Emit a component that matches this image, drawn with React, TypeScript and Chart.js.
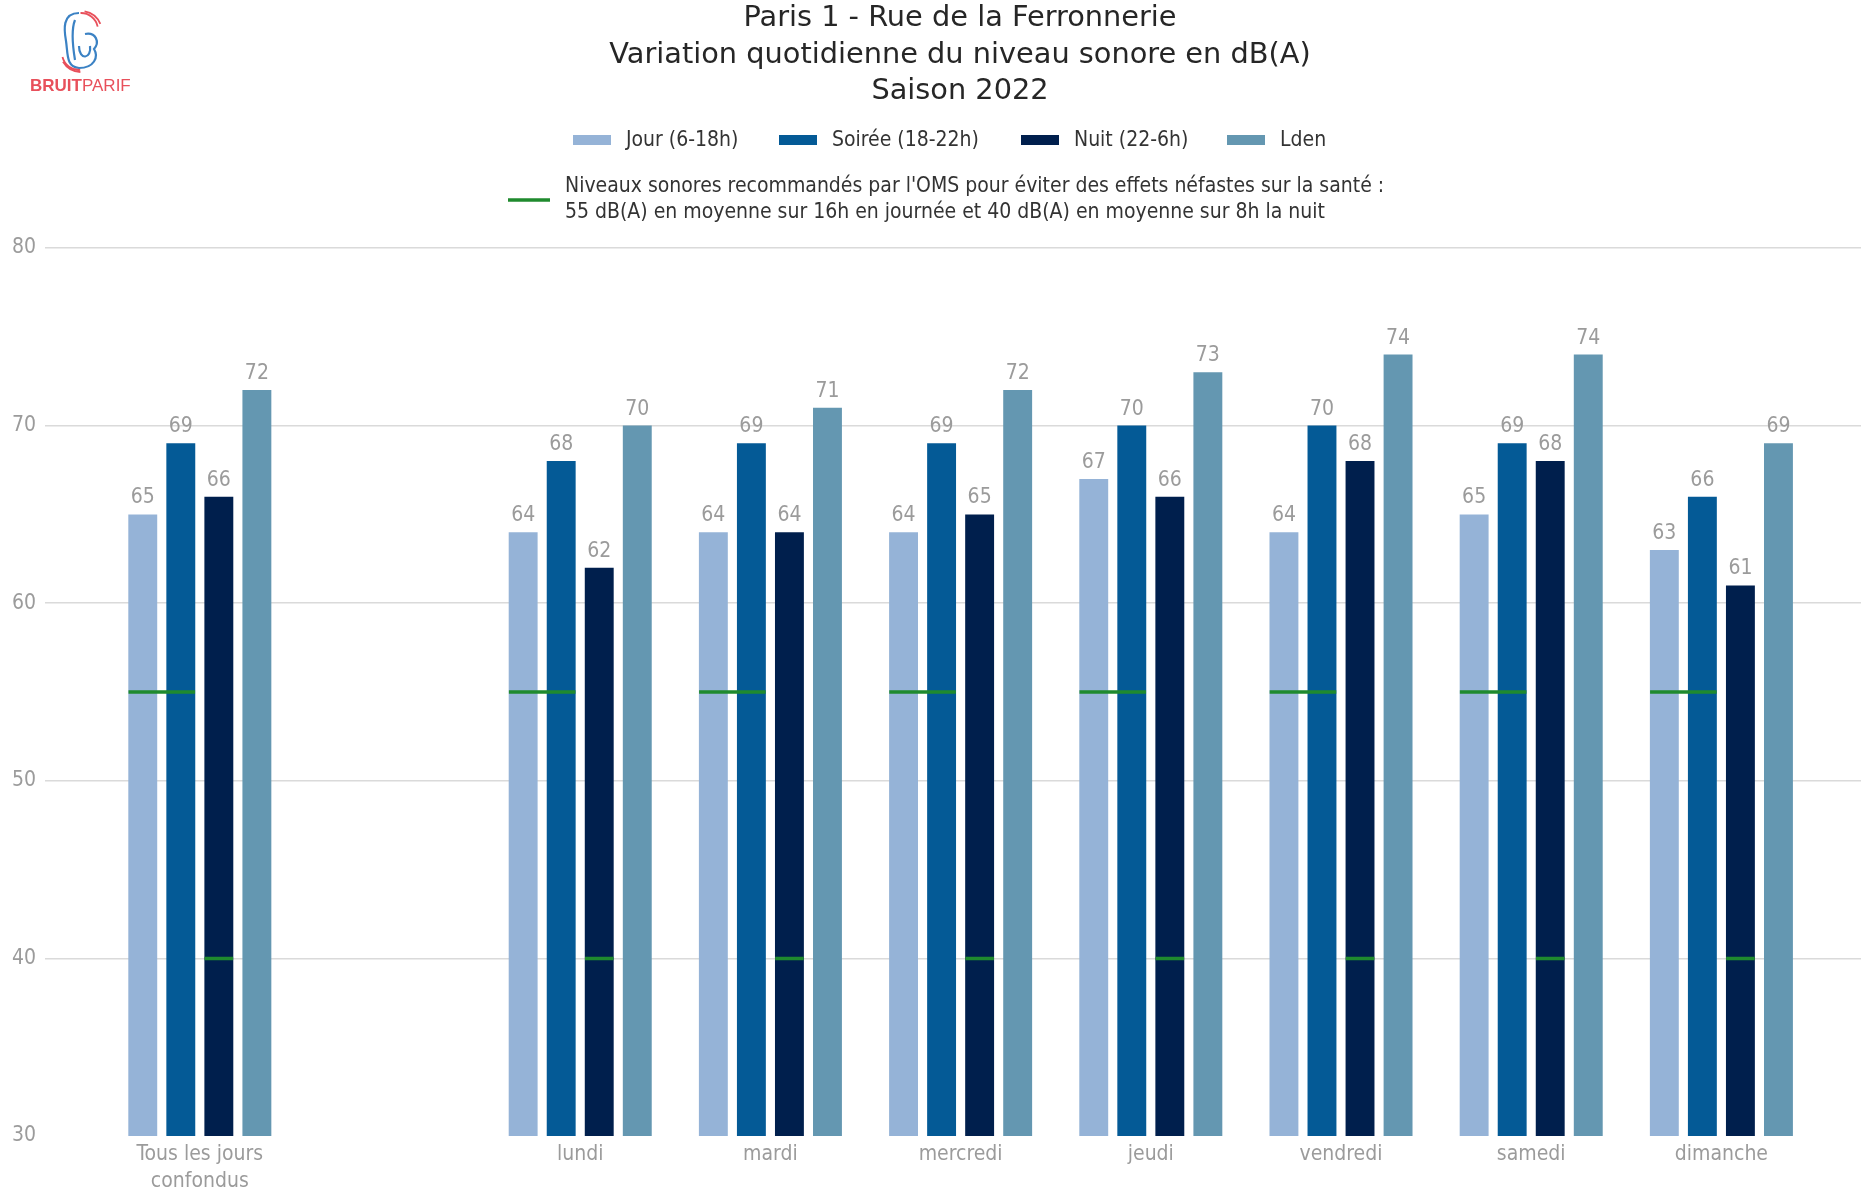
import React, { useEffect, useRef } from 'react';
import { Chart, registerables } from 'chart.js';

Chart.register(...registerables);

// ---------- data ----------
const categories = ['Tous les jours\nconfondus', 'lundi', 'mardi', 'mercredi', 'jeudi', 'vendredi', 'samedi', 'dimanche'];
const categoryPositions = [0, 2, 3, 4, 5, 6, 7, 8];
const jour = [65, 64, 64, 64, 67, 64, 65, 63];
const soiree = [69, 68, 69, 69, 70, 70, 69, 66];
const nuit = [66, 62, 64, 65, 66, 68, 68, 61];
const lden = [72, 70, 71, 72, 73, 74, 74, 69];
const seriesNames = ['Jour (6-18h)', 'Soirée (18-22h)', 'Nuit (22-6h)', 'Lden'];
const seriesColors = ['#95b3d7', '#045a96', '#001f4d', '#6497b1'];
const omsDay = 55;
const omsNight = 40;
const yTickValues = [30, 40, 50, 60, 70, 80];
const titleLines = ['Paris 1 - Rue de la Ferronnerie', 'Variation quotidienne du niveau sonore en dB(A)', 'Saison 2022'];
const omsLegendLines = [
  "Niveaux sonores recommandés par l'OMS pour éviter des effets néfastes sur la santé :",
  '55 dB(A) en moyenne sur 16h en journée et 40 dB(A) en moyenne sur 8h la nuit',
];
const logoText = ['BRUIT', 'PARIF'];

// ---------- styles ----------
const CONDENSED = "'DejaVu Sans Condensed', 'Liberation Sans Narrow', 'DejaVu Sans', sans-serif";
const TEXT_SIZE = 21;
const GREY = '#9b9b9b';
const GREEN = '#1f8a2e';
const SLOT = 0.2; // category units per bar slot (categoryPercentage 0.8 / 4 series)
const HALF_BAR = 0.075;

function buildOmsLine(): any[] {
  const pts: any[] = [];
  categoryPositions.forEach((p) => {
    const jourLeft = p - 1.5 * SLOT - HALF_BAR;
    const soireeRight = p - 0.5 * SLOT + HALF_BAR;
    const nuitLeft = p + 0.5 * SLOT - HALF_BAR;
    const nuitRight = p + 0.5 * SLOT + HALF_BAR;
    pts.push({ x: jourLeft, y: omsDay }, { x: soireeRight, y: omsDay }, { x: soireeRight, y: null });
    pts.push({ x: nuitLeft, y: omsNight }, { x: nuitRight, y: omsNight }, { x: nuitRight, y: null });
  });
  return pts;
}

const headerPlugin = {
  id: 'header',
  afterDraw(chart: any) {
    const ctx = chart.ctx as CanvasRenderingContext2D;
    ctx.save();
    // logo icon
    ctx.lineWidth = 2.2;
    ctx.strokeStyle = '#3b82c4';
    ctx.beginPath();
    ctx.moveTo(79, 13);
    ctx.bezierCurveTo(62, 13, 64, 30, 66, 41);
    ctx.bezierCurveTo(68, 54, 66, 67, 79, 68);
    ctx.bezierCurveTo(94, 68, 99, 57, 94, 49);
    ctx.bezierCurveTo(100, 42, 96, 32, 85, 34);
    ctx.stroke();
    ctx.beginPath();
    ctx.moveTo(75, 20);
    ctx.bezierCurveTo(71, 30, 73, 48, 75, 60);
    ctx.stroke();
    ctx.beginPath();
    ctx.moveTo(79, 46);
    ctx.bezierCurveTo(79, 61, 92, 59, 90, 46);
    ctx.stroke();
    ctx.strokeStyle = '#e8505b';
    ctx.lineWidth = 1.8;
    ctx.beginPath();
    ctx.arc(81, 30, 17, -1.6, -0.2);
    ctx.stroke();
    ctx.beginPath();
    ctx.arc(81, 32, 21, -1.4, -0.4);
    ctx.stroke();
    ctx.beginPath();
    ctx.arc(79, 53, 17, 1.5, 2.9);
    ctx.stroke();
    ctx.beginPath();
    ctx.arc(81, 51, 21, 1.6, 2.6);
    ctx.stroke();
    // logo text
    ctx.fillStyle = '#e8505b';
    ctx.textBaseline = 'middle';
    ctx.textAlign = 'left';
    ctx.font = "bold 17px 'Liberation Sans', sans-serif";
    ctx.fillText(logoText[0], 30, 86);
    const w = ctx.measureText(logoText[0]).width;
    ctx.font = "17px 'Liberation Sans', sans-serif";
    ctx.fillText(logoText[1], 30 + w, 86);

    // title
    ctx.fillStyle = '#262626';
    ctx.textAlign = 'center';
    ctx.font = "28.8px 'DejaVu Sans', sans-serif";
    const titleY = [19, 55.5, 91.5];
    titleLines.forEach((t, i) => ctx.fillText(t, 960, titleY[i]));

    // series legend
    ctx.font = `${TEXT_SIZE}px ${CONDENSED}`;
    ctx.textAlign = 'left';
    const boxX = [573, 779, 1021, 1227];
    seriesNames.forEach((n, i) => {
      ctx.fillStyle = seriesColors[i];
      ctx.fillRect(boxX[i], 135, 38, 10);
      ctx.fillStyle = '#333333';
      ctx.fillText(n, boxX[i] + 53, 141);
    });

    // OMS legend
    ctx.strokeStyle = GREEN;
    ctx.lineWidth = 3.5;
    ctx.beginPath();
    ctx.moveTo(508, 200);
    ctx.lineTo(550, 200);
    ctx.stroke();
    ctx.fillStyle = '#333333';
    ctx.fillText(omsLegendLines[0], 565, 187);
    ctx.fillText(omsLegendLines[1], 565, 213);
    ctx.restore();
  },
};

const valueLabelPlugin = {
  id: 'valueLabels',
  afterDatasetsDraw(chart: any) {
    const ctx = chart.ctx as CanvasRenderingContext2D;
    ctx.save();
    ctx.font = `${TEXT_SIZE}px ${CONDENSED}`;
    ctx.fillStyle = GREY;
    ctx.textAlign = 'center';
    ctx.textBaseline = 'alphabetic';
    chart.data.datasets.forEach((ds: any, di: number) => {
      if (ds.type === 'line') return;
      const meta = chart.getDatasetMeta(di);
      meta.data.forEach((el: any, i: number) => {
        const v = ds.data[i].y;
        ctx.fillText(String(Math.round(v)), el.x, el.y - 11);
      });
    });
    ctx.restore();
  },
};

export default function App() {
  const ref = useRef<HTMLCanvasElement | null>(null);
  useEffect(() => {
    if (!ref.current) return;
    const series = [jour, soiree, nuit, lden];
    const barDatasets = series.map((vals, si) => ({
      type: 'bar' as const,
      label: seriesNames[si],
      data: vals.map((v, i) => ({ x: categoryPositions[i], y: v })),
      backgroundColor: seriesColors[si],
      borderWidth: 0,
      categoryPercentage: 0.8,
      barPercentage: 0.76,
      order: 1,
    }));
    const omsDataset = {
      type: 'line' as const,
      label: 'OMS',
      data: buildOmsLine(),
      borderColor: GREEN,
      borderWidth: 3.5,
      pointRadius: 0,
      spanGaps: false,
      fill: false,
      order: 0,
    };
    const chart = new Chart(ref.current, {
      type: 'bar',
      data: { datasets: [...barDatasets, omsDataset] as any },
      options: {
        animation: false,
        responsive: false,
        maintainAspectRatio: false,
        devicePixelRatio: 1,
        layout: { padding: { top: 248, left: 0, right: 0, bottom: 0 } },
        plugins: { legend: { display: false }, title: { display: false }, tooltip: { enabled: false } },
        scales: {
          x: {
            type: 'linear',
            min: -0.814,
            max: 8.734,
            offset: false,
            grid: { display: false, drawTicks: false },
            border: { display: false },
            afterBuildTicks: (scale: any) => {
              scale.ticks = categoryPositions.map((v) => ({ value: v }));
            },
            afterFit: (scale: any) => {
              scale.height = 54;
            },
            ticks: {
              autoSkip: false,
              maxRotation: 0,
              minRotation: 0,
              padding: 6,
              color: GREY,
              font: { family: CONDENSED, size: TEXT_SIZE, lineHeight: 1.24 },
              callback: (value: any) => {
                const idx = categoryPositions.indexOf(Number(value));
                return idx >= 0 ? categories[idx].split('\n') : '';
              },
            },
          },
          y: {
            min: 30,
            max: 80,
            grid: {
              drawTicks: false,
              lineWidth: 1.5,
              color: (c: any) => (c.tick && c.tick.value === 30 ? 'rgba(0,0,0,0)' : '#dadada'),
            },
            border: { display: false },
            afterBuildTicks: (scale: any) => {
              scale.ticks = yTickValues.map((v) => ({ value: v }));
            },
            afterFit: (scale: any) => {
              scale.width = 45;
            },
            ticks: {
              padding: 9,
              color: GREY,
              font: { family: CONDENSED, size: TEXT_SIZE },
            },
          },
        },
      },
      plugins: [headerPlugin, valueLabelPlugin],
    });
    return () => chart.destroy();
  }, []);
  return (
    <div style={{ position: 'absolute', left: 0, top: 0, width: 1861, height: 1190, background: '#fff' }}>
      <canvas ref={ref} width={1861} height={1190} />
    </div>
  );
}
